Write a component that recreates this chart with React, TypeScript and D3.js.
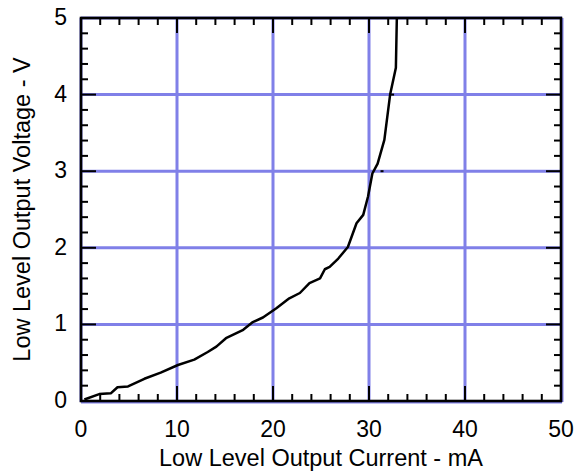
import React, { useEffect, useRef } from "react";
import * as d3 from "d3";

// curve (mA, V)
const currentMA = [0.35, 1.9, 3.1, 3.8, 4.9, 6.6, 8.3, 10.1, 11.8, 13.2, 14.1, 15.1, 16.9, 17.9, 18.95, 20.35, 21.7, 22.8, 23.8, 24.9, 25.4, 25.9, 26.8, 27.8, 28.7, 29.4, 29.9, 30.35, 30.9, 31.6, 32.2, 32.8, 32.9];
const voltageV = [0.02, 0.09, 0.1, 0.18, 0.19, 0.29, 0.37, 0.47, 0.54, 0.64, 0.71, 0.82, 0.93, 1.03, 1.09, 1.21, 1.34, 1.41, 1.54, 1.6, 1.72, 1.75, 1.86, 2.01, 2.32, 2.43, 2.67, 2.97, 3.1, 3.41, 4.0, 4.35, 5.0];

// small stray dashes on the curve
const markX = [31.2, 32.3];
const markY = [3.0, 4.0];

const xTickLabels = ["0", "10", "20", "30", "40", "50"];
const yTickLabels = ["0", "1", "2", "3", "4", "5"];

const xTitle = "Low Level Output Current - mA";
const yTitle = "Low Level Output Voltage - V";

const width = 580;
const height = 472;
const margin = { left: 81, right: 19, top: 18, bottom: 71 };
const gridColor = "#8080e8";
const font = "'Liberation Sans', Arial, sans-serif";

const App = () => {
  const ref = useRef<SVGSVGElement>(null);

  useEffect(() => {
    const svg = d3.select(ref.current);
    svg.selectAll("*").remove();

    const x = d3.scaleLinear().domain([0, 50]).range([margin.left, width - margin.right]);
    const y = d3.scaleLinear().domain([0, 5]).range([height - margin.bottom, margin.top]);
    const [x0, x1] = x.range();
    const [y0, y1] = y.range();

    // blue grid (edges included, peeking out beside the frame)
    const g = svg.append("g").attr("stroke", gridColor).attr("stroke-width", 3);
    g.selectAll("line.vx")
      .data(d3.range(0, 51, 10))
      .join("line")
      .attr("class", "vx")
      .attr("x1", d => x(d) + (d === 50 ? 1 : 0))
      .attr("x2", d => x(d) + (d === 50 ? 1 : 0))
      .attr("y1", y1)
      .attr("y2", y0 + 1);
    g.selectAll("line.hy")
      .data(d3.range(0, 6, 1))
      .join("line")
      .attr("class", "hy")
      .attr("y1", d => y(d) + (d === 0 ? 1 : 0))
      .attr("y2", d => y(d) + (d === 0 ? 1 : 0))
      .attr("x1", x0)
      .attr("x2", x1 + 1);

    // ticks, inward on all four sides
    const t = svg.append("g").attr("stroke", "black").attr("stroke-width", 2);
    const xt = d3.range(0, 51, 2);
    xt.forEach(v => {
      const len = v % 10 === 0 ? 15 : 7;
      t.append("line").attr("x1", x(v)).attr("x2", x(v)).attr("y1", y0).attr("y2", y0 - len);
      t.append("line").attr("x1", x(v)).attr("x2", x(v)).attr("y1", y1).attr("y2", y1 + len);
    });
    const yt = d3.range(0, 26).map(i => i * 0.2);
    yt.forEach((v, i) => {
      const len = i % 5 === 0 ? 15 : 7;
      t.append("line").attr("y1", y(v)).attr("y2", y(v)).attr("x1", x0).attr("x2", x0 + len);
      t.append("line").attr("y1", y(v)).attr("y2", y(v)).attr("x1", x1).attr("x2", x1 - len);
    });

    // frame
    svg.append("rect")
      .attr("x", x0)
      .attr("y", y1)
      .attr("width", x1 - x0)
      .attr("height", y0 - y1)
      .attr("fill", "none")
      .attr("stroke", "black")
      .attr("stroke-width", 2.6);

    // curve
    const pts = currentMA.map((c, i) => [c, voltageV[i]] as [number, number]);
    const line = d3.line<[number, number]>().x(d => x(d[0])).y(d => y(d[1]));
    svg.append("path")
      .attr("d", line(pts))
      .attr("fill", "none")
      .attr("stroke", "black")
      .attr("stroke-width", 2.5)
      .attr("stroke-linejoin", "round");

    svg.selectAll("line.mark")
      .data(markX)
      .join("line")
      .attr("class", "mark")
      .attr("x1", d => x(d))
      .attr("x2", d => x(d) + 3)
      .attr("y1", (d, i) => y(markY[i]))
      .attr("y2", (d, i) => y(markY[i]))
      .attr("stroke", "black")
      .attr("stroke-width", 2);

    // tick labels
    const lab = svg.append("g").attr("font-family", font).attr("fill", "black");
    lab.selectAll("text.xl")
      .data(xTickLabels)
      .join("text")
      .attr("class", "xl")
      .attr("x", d => x(+d))
      .attr("y", 437)
      .attr("font-size", 23)
      .attr("text-anchor", "middle")
      .text(d => d);
    lab.selectAll("text.yl")
      .data(yTickLabels)
      .join("text")
      .attr("class", "yl")
      .attr("x", 67)
      .attr("y", d => y(+d) + 7)
      .attr("font-size", 23)
      .attr("text-anchor", "end")
      .text(d => d);

    // axis titles
    lab.append("text")
      .attr("x", (x0 + x1) / 2)
      .attr("y", 466)
      .attr("font-size", 23.5)
      .attr("text-anchor", "middle")
      .text(xTitle);
    lab.append("text")
      .attr("transform", `translate(30,${(y0 + y1) / 2}) rotate(-90)`)
      .attr("font-size", 23.5)
      .attr("text-anchor", "middle")
      .text(yTitle);
  }, []);

  return (
    <svg
      ref={ref}
      width={width}
      height={height}
      style={{ position: "absolute", left: 0, top: 0, background: "white" }}
    ></svg>
  );
};

export default App;
